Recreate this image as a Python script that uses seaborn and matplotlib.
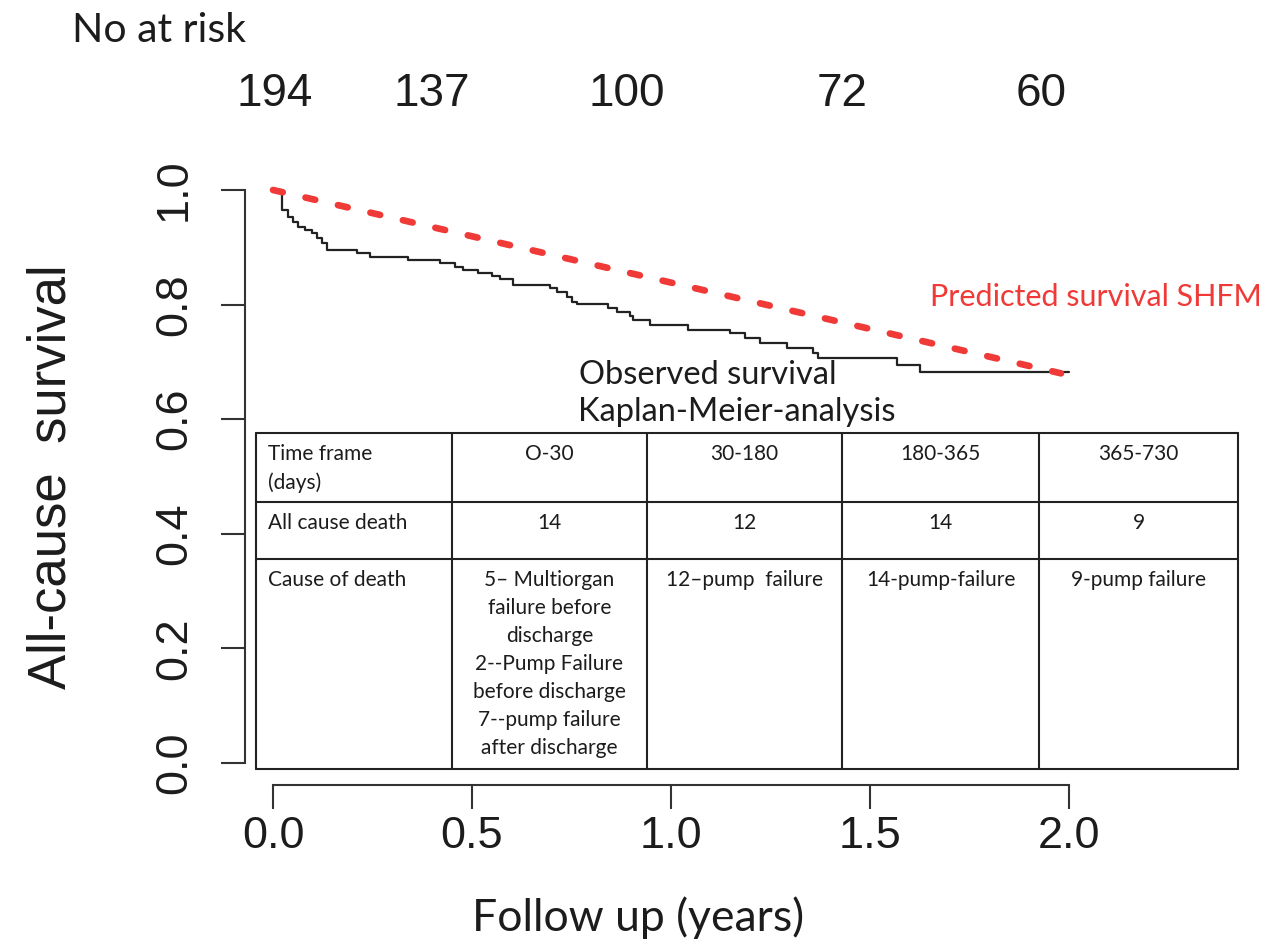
import matplotlib
matplotlib.use("Agg")
import matplotlib.pyplot as plt
import seaborn as sns

# observed survival, Kaplan-Meier (time in years, survival after each step)
km_time = [0.0, 0.022, 0.038, 0.050, 0.063, 0.080, 0.098, 0.111, 0.123, 0.136,
           0.211, 0.244, 0.340, 0.420, 0.457, 0.478, 0.515, 0.550, 0.570, 0.603,
           0.696, 0.713, 0.739, 0.751, 0.764, 0.842, 0.864, 0.897, 0.905, 0.947,
           1.043, 1.148, 1.186, 1.224, 1.291, 1.357, 1.369, 1.568, 1.626, 2.0]
km_surv = [1.0, 0.965, 0.953, 0.944, 0.935, 0.930, 0.925, 0.916, 0.908, 0.895,
           0.890, 0.883, 0.878, 0.873, 0.866, 0.860, 0.855, 0.850, 0.845, 0.834,
           0.829, 0.822, 0.813, 0.805, 0.801, 0.794, 0.787, 0.780, 0.773, 0.764,
           0.756, 0.750, 0.742, 0.733, 0.724, 0.715, 0.707, 0.695, 0.683, 0.683]

# predicted survival (SHFM)
shfm_time = [0.0, 1.98]
shfm_surv = [1.0, 0.68]

x_ticks = [0.0, 0.5, 1.0, 1.5, 2.0]
y_ticks = [0.0, 0.2, 0.4, 0.6, 0.8, 1.0]

at_risk = [194, 137, 100, 72, 60]
at_risk_x = [0.005, 0.40, 0.89, 1.43, 1.93]

row_labels = ["Time frame\n(days)", "All cause death", "Cause of death"]
time_frames = ["O-30", "30-180", "180-365", "365-730"]
all_cause_death = ["14", "12", "14", "9"]
cause_of_death = ["5\u2013 Multiorgan\nfailure before\ndischarge\n2--Pump Failure\n"
                  "before discharge\n7--pump failure\nafter discharge",
                  "12\u2013pump  failure", "14-pump-failure", "9-pump failure"]

sns.set_style("ticks")
plt.rcParams["font.family"] = ["Liberation Sans", "DejaVu Sans"]
soft = "Lato"
ink = "#1c1c1c"

fig = plt.figure(figsize=(12.76, 9.47), dpi=100)
ax = fig.add_axes([0.192, 0.1711, 0.6677, 0.6515])

sns.lineplot(x=km_time, y=km_surv, drawstyle="steps-post", estimator=None, sort=False,
             color="#222222", lw=1.6, ax=ax)
sns.lineplot(x=shfm_time, y=shfm_surv, estimator=None, sort=False, color="#ef3a37",
             lw=4.8, linestyle=(0, (1.5, 3.5)), ax=ax)
ax.lines[-1].set_dash_capstyle("round")

ax.set_xlim(-0.0704, 2.0704)
ax.set_ylim(-0.0384, 1.0384)
ax.set_xticks(x_ticks)
ax.set_xticklabels([f"{v:.1f}" for v in x_ticks])
ax.set_yticks(y_ticks)
ax.set_yticklabels([f"{v:.1f}" for v in y_ticks], rotation=90, va="center")
sns.despine(ax=ax)
ax.spines["left"].set_bounds(0, 1)
ax.spines["bottom"].set_bounds(0, 2)
for s in ("left", "bottom"):
    ax.spines[s].set_linewidth(1.5)
    ax.spines[s].set_color("#333333")
ax.tick_params(axis="both", length=17, width=1.5, color="#333333", labelsize=32.5,
               labelcolor=ink)
ax.tick_params(axis="y", pad=19)
ax.tick_params(axis="x", pad=5)
ax.set_xlabel("")
ax.set_ylabel("")

ax.text(1.65, 0.813, "Predicted survival SHFM", color="#ef3a37", fontsize=22,
        family=soft, va="center", clip_on=False)
ax.text(0.77, 0.677, "Observed survival", color=ink, fontsize=23.5, family=soft, va="center")
ax.text(0.766, 0.613, "Kaplan-Meier-analysis", color=ink, fontsize=23.5, family=soft,
        va="center")

# number at risk
fig.text(72 / 1276, 1 - 30 / 947, "No at risk", fontsize=29.5, family=soft, color=ink,
         va="center")
for n, xv in zip(at_risk, at_risk_x):
    ax.text(xv, 1.168, str(n), fontsize=33, ha="center", va="center", color=ink,
            clip_on=False)

fig.text(52 / 1276, 1 - 477 / 947, "All-cause  survival", rotation=90, fontsize=38,
         ha="center", va="center", color=ink)
fig.text(0.5, 1 - 918 / 947, "Follow up (years)", fontsize=32, family=soft,
         ha="center", va="center", color=ink)

# table of deaths
tab = fig.add_axes([256 / 1276, (947 - 769) / 947, 982 / 1276, 336 / 947])
tab.set_xlim(0, 1)
tab.set_ylim(1, 0)
tab.axis("off")
col_edges = [0, 0.1996, 0.398, 0.5967, 0.7974, 1]
row_edges = [0, 0.2054, 0.375, 1]
for c in col_edges:
    tab.axvline(c, color="#222222", lw=1.5, clip_on=False)
for r in row_edges:
    tab.axhline(r, color="#222222", lw=1.5, clip_on=False)

rows = [time_frames, all_cause_death, cause_of_death]
for i, (lab, vals) in enumerate(zip(row_labels, rows)):
    top = row_edges[i] + 0.032
    tab.text(0.012, top, lab, fontsize=15, family=soft, color=ink, va="top",
             linespacing=1.5)
    for j, v in enumerate(vals):
        cx = (col_edges[j + 1] + col_edges[j + 2]) / 2
        tab.text(cx, top, v, fontsize=15, family=soft, color=ink, va="top",
                 ha="center", linespacing=1.5)

fig.savefig("out.png", dpi=100)
